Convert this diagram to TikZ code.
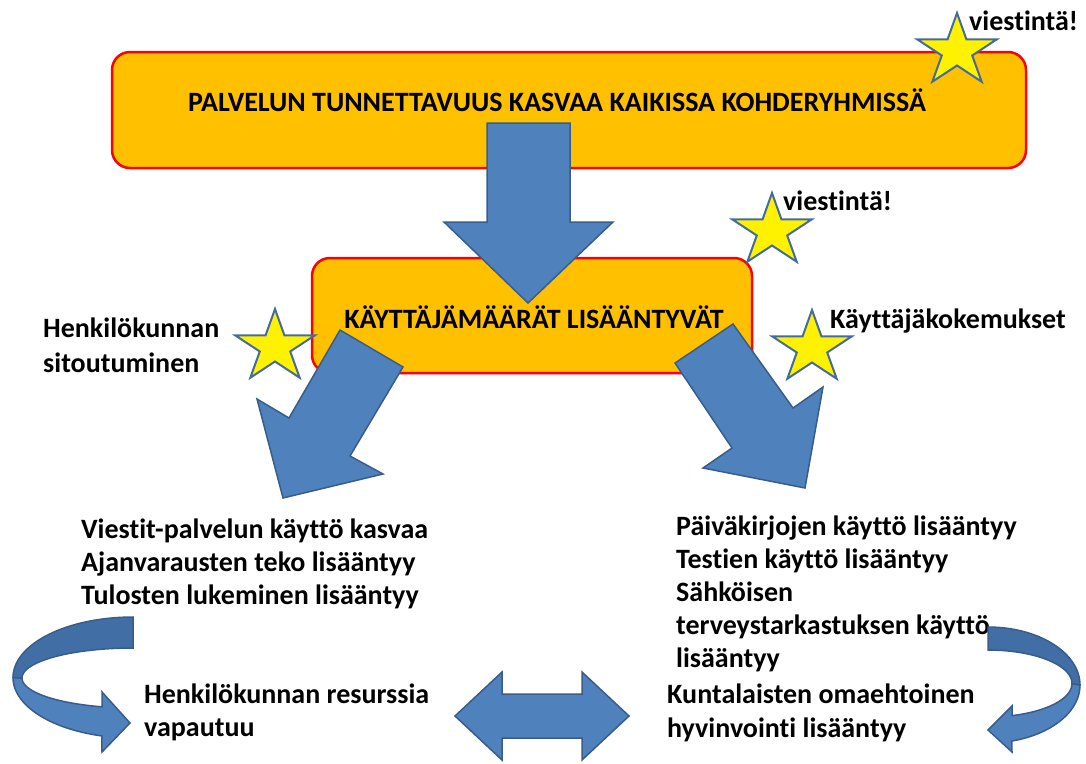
\documentclass[tikz,border=0pt]{standalone}
\usepackage{fontspec}
\setmainfont{Carlito}[Ligatures=NoCommon]
\definecolor{goalorange}{RGB}{255,192,0}
\definecolor{arrowblue}{RGB}{79,129,189}
\definecolor{arrowshade}{RGB}{66,110,166}
\definecolor{arrowedge}{RGB}{56,93,138}
\definecolor{staredge}{RGB}{68,107,158}
\tikzset{
  goalbox/.style={draw=red, line width=2.5pt, fill=goalorange, rounded corners=18pt},
  blockarrow/.style={draw=arrowedge, line width=1.5pt, fill=arrowblue, line join=miter},
  shadedband/.style={blockarrow, fill=arrowshade},
  starbadge/.style={draw=staredge, line width=2pt, fill=yellow, line join=miter},
  slidetext/.style={font=\bfseries\fontsize{28}{33}\selectfont, align=left, anchor=base west, inner sep=0pt},
}
% star at a named point: name, x, y
\newcommand{\yellowstar}[3]{%
  \coordinate (#1) at (#2,#3);
  \draw[starbadge] plot[samples at={0,...,9}, variable=\k]
    ({#2+(isodd(\k) ? 16 : 42)*sin(36*\k)}, {#3-(isodd(\k) ? 14.5 : 38)*cos(36*\k)}) -- cycle;
}
\begin{document}
\begin{tikzpicture}[x=1pt, y=-1pt]
\useasboundingbox (0,0) rectangle (1086,763);

% boxes
\draw [goalbox] (112,52) rectangle (1026,168);
\draw [goalbox] (312,258) rectangle (752,373);
\node [slidetext, anchor=base] (tunnettavuus) at (557,111) {PALVELUN TUNNETTAVUUS KASVAA KAIKISSA KOHDERYHMISSÄ};
\node [slidetext, anchor=base] (maarat) at (534,328) {KÄYTTÄJÄMÄÄRÄT LISÄÄNTYVÄT};

% texts (base = last line)
\node [slidetext] (viesti1) at (969,30) {viestintä!};
\node [slidetext] (viesti2) at (783,210) {viestintä!};
\node [slidetext, font=\bfseries\fontsize{28}{35}\selectfont] (sitoutuminen) at (43,372) {Henkilökunnan\\sitoutuminen};
\node [slidetext] (kokemukset) at (830,328) {Käyttäjäkokemukset};
\node [slidetext] (vasen) at (81,604) {Viestit-palvelun käyttö kasvaa\\Ajanvarausten teko lisääntyy\\Tulosten lukeminen lisääntyy};
\node [slidetext] (oikea) at (676,667) {Päiväkirjojen käyttö lisääntyy\\Testien käyttö lisääntyy\\Sähköisen\\terveystarkastuksen käyttö\\lisääntyy};
\node [slidetext] (resurssi) at (144,736) {Henkilökunnan resurssia\\vapautuu};
\node [slidetext, font=\bfseries\fontsize{28}{34}\selectfont] (hyvinvointi) at (667,737) {Kuntalaisten omaehtoinen\\hyvinvointi lisääntyy};

% block arrows
\draw [blockarrow] (487,123) -- (570,123) -- (570,222) -- (613,222) -- (528,303) -- (444,222) -- (487,222) -- cycle;
\draw [blockarrow] (340,330) -- (403,367) -- (350,456) -- (383,474) -- (283,498) -- (257,399) -- (289,418) -- cycle;
\draw [blockarrow] (733,324) -- (675,363) -- (732,448) -- (703,468) -- (805,488) -- (823,387) -- (793,408) -- cycle;
\draw [blockarrow] (455,716) -- (502,672) -- (502,694) -- (582,694) -- (582,672) -- (629,716) -- (582,760) -- (582,738) -- (502,738) -- (502,760) -- cycle;

% curved arrows
\draw [blockarrow] plot[domain=180:105, samples=30, variable=\t] ({133+120*cos(\t)}, {677.5+60.5*sin(\t)})
  -- (102,752) -- (130,723) -- (102,692)
  -- plot[domain=106.2:180, samples=30, variable=\t] ({133+111*cos(\t)}, {678+30*sin(\t)}) -- cycle;
\draw [shadedband] plot[domain=270:180, samples=30, variable=\t] ({133+120*cos(\t)}, {677.5+60.5*sin(\t)})
  -- plot[domain=180:270, samples=30, variable=\t] ({133+111*cos(\t)}, {678+30*sin(\t)}) -- cycle;
\draw [blockarrow] plot[domain=0:75, samples=30, variable=\t] ({988+92*cos(\t)}, {685+58*sin(\t)})
  -- (1012,752) -- (988,730) -- (1012,706)
  -- plot[domain=73.4:0, samples=30, variable=\t] ({988+84*cos(\t)}, {683.5+33.5*sin(\t)}) -- cycle;
\draw [shadedband] plot[domain=270:360, samples=30, variable=\t] ({988+92*cos(\t)}, {685+58*sin(\t)})
  -- plot[domain=360:270, samples=30, variable=\t] ({988+84*cos(\t)}, {683.5+33.5*sin(\t)}) -- cycle;

% stars
\yellowstar{tahti1}{957}{51}
\yellowstar{tahti2}{772}{231}
\yellowstar{tahti3}{275}{347}
\yellowstar{tahti4}{812}{348}
\end{tikzpicture}
\end{document}
